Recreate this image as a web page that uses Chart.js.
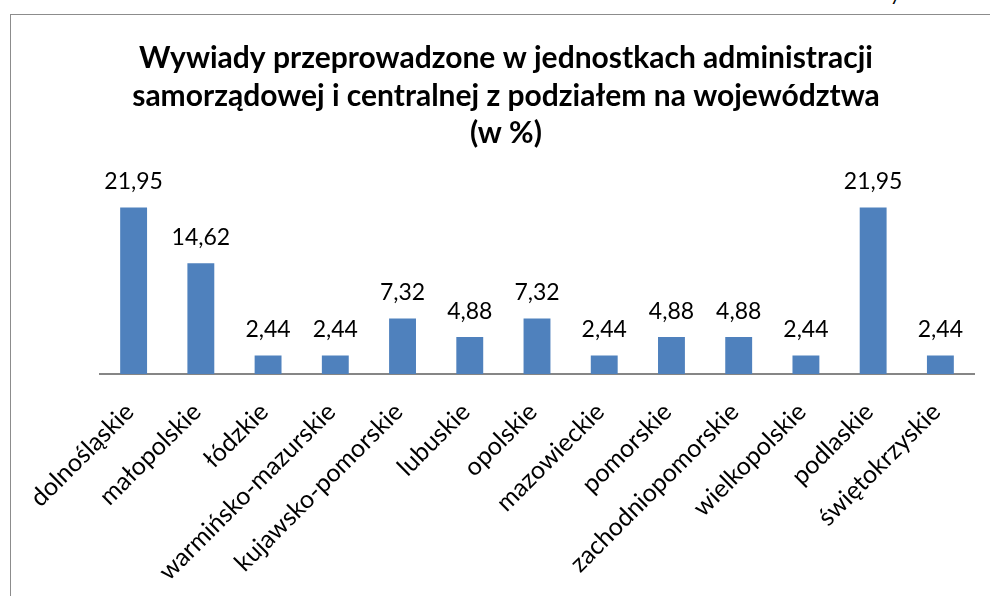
<!DOCTYPE html>
<html>
<head>
<meta charset="utf-8">
<script src="https://cdn.jsdelivr.net/npm/chart.js@4"></script>
<style>
  html, body { margin: 0; padding: 0; background: #ffffff; overflow: hidden; }
  #frame { position: absolute; left: 10px; top: 14px; width: 1100px; height: 700px;
           border-left: 1px solid #8c8c8c; border-top: 1px solid #8c8c8c; }
  #wrap { position: absolute; left: 0; top: 0; width: 990px; height: 596px; }
  #cut { position: absolute; left: 890px; top: -19px; font: 20px Lato, sans-serif; color: #000; }
</style>
</head>
<body>
<div id="frame"></div>
<div id="cut">y</div>
<div id="wrap"><canvas id="c" width="990" height="596"></canvas></div>
<script>
const categories = [
  'dolnośląskie', 'małopolskie', 'łódzkie', 'warmińsko-mazurskie', 'kujawsko-pomorskie',
  'lubuskie', 'opolskie', 'mazowieckie', 'pomorskie', 'zachodniopomorskie',
  'wielkopolskie', 'podlaskie', 'świętokrzyskie'
];
const values = [21.95, 14.62, 2.44, 2.44, 7.32, 4.88, 7.32, 2.44, 4.88, 4.88, 2.44, 21.95, 2.44];
const titleLines = [
  'Wywiady przeprowadzone w jednostkach administracji',
  'samorządowej i centralnej z podziałem na województwa',
  '(w %)'
];
const yMin = 0;
const yMax = 25;

const FONT = 'Lato, "Open Sans", sans-serif';

const valueLabels = {
  id: 'valueLabels',
  afterDatasetsDraw(chart) {
    const ctx = chart.ctx;
    ctx.save();
    ctx.font = '23px ' + FONT;
    ctx.fillStyle = '#000000';
    ctx.textAlign = 'center';
    ctx.textBaseline = 'alphabetic';
    chart.data.datasets.forEach((ds, di) => {
      chart.getDatasetMeta(di).data.forEach((bar, i) => {
        const txt = ds.data[i].toFixed(2).replace('.', ',');
        ctx.fillText(txt, bar.x, bar.y - 18.5);
      });
    });
    ctx.restore();
  }
};

new Chart(document.getElementById('c'), {
  type: 'bar',
  data: {
    labels: categories,
    datasets: [{
      data: values,
      backgroundColor: '#4F81BD',
      borderWidth: 0,
      barPercentage: 0.4,
      categoryPercentage: 1.0
    }]
  },
  options: {
    responsive: false,
    animation: false,
    devicePixelRatio: 1,
    layout: { padding: { left: 22, right: 0, top: 0, bottom: 0 } },
    plugins: {
      legend: { display: false },
      tooltip: { enabled: false },
      title: {
        display: true,
        text: titleLines,
        color: '#000000',
        font: { family: FONT, size: 30, weight: 'bold', lineHeight: 37.5 / 30 },
        padding: { top: 40, bottom: 32 }
      }
    },
    scales: {
      x: {
        grid: { display: false, drawTicks: false },
        border: { display: true, color: '#868686', width: 2 },
        ticks: {
          autoSkip: false,
          maxRotation: 45,
          minRotation: 45,
          color: '#000000',
          font: { family: FONT, size: 25 },
          padding: 23,
          labelOffset: -4
        },
        afterFit(s) { s.height = 222; }
      },
      y: {
        min: yMin,
        max: yMax,
        ticks: { display: false },
        grid: { display: false },
        border: { display: false },
        afterFit(s) { s.width = 78; }
      },
      yR: {
        type: 'linear',
        axis: 'y',
        position: 'right',
        min: yMin,
        max: yMax,
        ticks: { display: false },
        grid: { display: false },
        border: { display: false },
        afterFit(s) { s.width = 16; }
      }
    }
  },
  plugins: [valueLabels]
});
</script>
</body>
</html>
